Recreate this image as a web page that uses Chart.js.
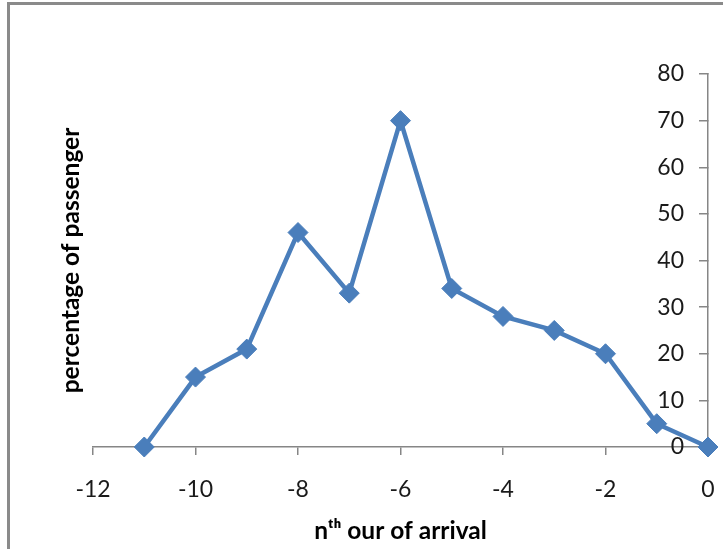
<!DOCTYPE html>
<html>
<head>
<meta charset="utf-8">
<script src="https://cdn.jsdelivr.net/npm/chart.js@4"></script>
<style>
  html, body { margin: 0; padding: 0; background: #fff; overflow: hidden; }
  #frame { position: absolute; left: 7px; top: 2px; width: 800px; height: 700px;
           border-left: 3px solid #8a8a8a; border-top: 3px solid #8a8a8a; }
  #wrap { position: absolute; left: 0; top: 0; width: 723px; height: 549px; }
</style>
</head>
<body>
<div id="frame"></div>
<div id="wrap"><canvas id="c" width="723" height="549"></canvas></div>
<script>
// hour before departure vs. share of passengers arriving
const hours = [-11, -10, -9, -8, -7, -6, -5, -4, -3, -2, -1, 0];
const passengerPct = [0, 15, 21, 46, 33, 70, 34, 28, 25, 20, 5, 0];

const xRange = { min: -12, max: 0, step: 2 };
const yRange = { min: 0, max: 80, step: 10 };

const xTitle = 'n\u1D57\u02B0 our of arrival';
const yTitle = 'percentage of passenger';

const axisGray = '#868686';
const lineBlue = '#4A7EBB';
const tickFont = { family: 'Lato, "Open Sans", sans-serif', size: 23 };
const titleFont = { family: 'Lato, "Open Sans", sans-serif', size: 24.5, weight: 'bold' };

// fixed scale boxes so the plot area lands where the axes should be
const noEdgePadding = s => { s.paddingTop = 0; s.paddingBottom = 0; s.paddingLeft = 0; s.paddingRight = 0; };

new Chart(document.getElementById('c'), {
  type: 'line',
  data: {
    datasets: [{
      data: hours.map((h, i) => ({ x: h, y: passengerPct[i] })),
      borderColor: lineBlue,
      backgroundColor: lineBlue,
      borderWidth: 4.5,
      tension: 0,
      pointStyle: 'rectRot',
      pointRadius: 10,
      pointBorderWidth: 1,
      pointBackgroundColor: lineBlue,
      pointBorderColor: lineBlue,
      clip: false
    }]
  },
  options: {
    responsive: false,
    animation: false,
    layout: { padding: { top: 74, left: 0, right: 0, bottom: 0 } },
    plugins: { legend: { display: false }, tooltip: { enabled: false } },
    scales: {
      x: {
        type: 'linear',
        position: 'bottom',
        min: xRange.min,
        max: xRange.max,
        afterFit: s => { s.height = 102; noEdgePadding(s); },
        ticks: { stepSize: xRange.step, font: tickFont, color: '#1a1a1a', padding: 21, maxRotation: 0 },
        grid: { drawOnChartArea: false, drawTicks: true, tickLength: 8, color: axisGray, lineWidth: 1.5 },
        border: { display: true, color: axisGray, width: 1.5 },
        title: { display: true, text: xTitle, font: titleFont, color: '#000', padding: { top: 0, bottom: 3 } }
      },
      y: {
        type: 'linear',
        position: 'right',
        min: yRange.min,
        max: yRange.max,
        afterFit: s => { s.width = 15; noEdgePadding(s); },
        ticks: { stepSize: yRange.step, font: tickFont, color: '#1a1a1a', mirror: true, padding: -24 },
        grid: { drawOnChartArea: false, drawTicks: true, tickLength: -9, color: axisGray, lineWidth: 1.5 },
        border: { display: true, color: axisGray, width: 1.5 }
      },
      yLabel: {
        type: 'linear',
        position: 'left',
        afterFit: s => { s.width = 93; noEdgePadding(s); },
        ticks: { display: false },
        grid: { display: false },
        border: { display: false },
        title: { display: true, text: yTitle, font: titleFont, color: '#000', padding: { top: 56, bottom: 0 } }
      }
    }
  }
});
</script>
</body>
</html>
